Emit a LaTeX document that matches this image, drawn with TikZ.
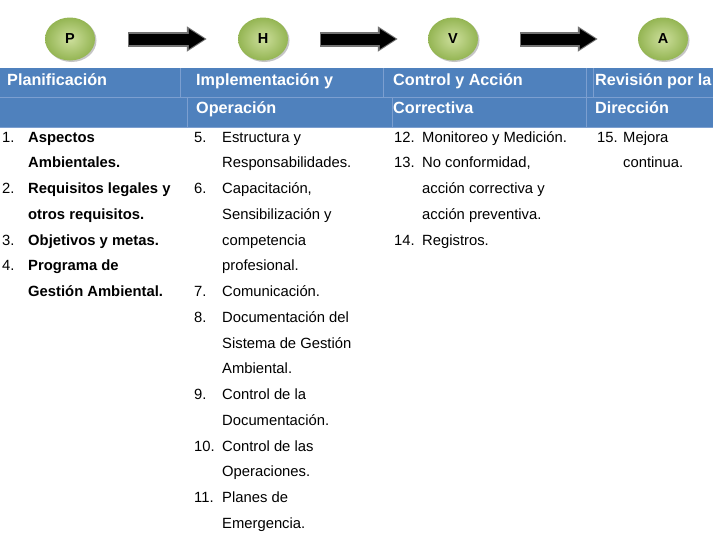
\documentclass[tikz,border=0pt]{standalone}
\usepackage{fontspec}
\setmainfont{Liberation Sans}
\usepackage{tikz}
\usetikzlibrary{shapes.geometric,shadows,arrows.meta}
\definecolor{hdrblue}{HTML}{4F81BD}
\definecolor{hdrline}{HTML}{7C9FD0}
\definecolor{phvaedge}{HTML}{94B553}
\definecolor{phvainner}{HTML}{CDDF9C}
\newcommand{\bodyfont}{\fontsize{14.8}{25.75}\selectfont}
\newcommand{\hdrfont}{\fontsize{16.2}{28}\selectfont\bfseries}
\tikzset{>=latex,
  phva/.style={ellipse, minimum width=50, minimum height=43, inner sep=0,
    shading=radial, inner color=phvainner, outer color=phvaedge,
    drop shadow={shadow xshift=1.5pt, shadow yshift=-1.5pt, fill=black!45},
    font=\fontsize{14.5}{16}\selectfont\bfseries},
  bigarrow/.style={line width=15, draw=black!55,
    -{Triangle[length=20pt,width=24pt]}},
  bigarrowin/.style={line width=11, draw=black,
    -{Triangle[length=16pt,width=19pt]}},
  % base = baseline of the last line
  hdr/.style={anchor=base west, inner sep=0, align=left, text=white, font=\hdrfont},
  num/.style={anchor=base west, inner sep=0, font=\bodyfont},
  itm/.style={anchor=base west, inner sep=0, align=left, font=\bodyfont},
  itmb/.style={itm, font=\bodyfont\bfseries}}

\begin{document}
\begin{tikzpicture}[x=1pt,y=-1pt]
  \useasboundingbox (0,0) rectangle (713,539);

  % P H V A
  \node[phva] (P) at (70,39) {P};
  \node[phva] (H) at (263,39) {H};
  \node[phva] (V) at (453,39) {V};
  \node[phva] (A) at (663,39) {A};

  \draw[bigarrow, shorten <=33, shorten >=31] (P.east) -- (P.east -| H.west);
  \draw[bigarrowin, shorten <=34, shorten >=33] (P.east) -- (P.east -| H.west);
  \draw[bigarrow, shorten <=32, shorten >=30] (H.east) -- (H.west -| V.west);
  \draw[bigarrowin, shorten <=33, shorten >=32] (H.east) -- (H.west -| V.west);
  \draw[bigarrow, shorten <=42, shorten >=40] (V.east) -- (V.east -| A.west);
  \draw[bigarrowin, shorten <=43, shorten >=42] (V.east) -- (V.east -| A.west);

  % cabecera
  \fill[hdrblue] (0,68) rectangle (713,127);
  \draw[hdrline, line width=0.8] (0,97) -- (713,97);
  \draw[hdrline, line width=1.2] (0,127.5) -- (713,127.5);
  \draw[hdrline, line width=0.8] (180,68) -- (180,97) (187,97) -- (187,127);
  \draw[hdrline, line width=0.8] (383,68) -- (383,97) (392,97) -- (392,127);
  \draw[hdrline, line width=0.8] (586,68) -- (586,127) (593,68) -- (593,97);

  \node[hdr] (h1) at (7,85) {Planificación};
  \node[hdr] (h2) at (196,113) {Implementación y\\Operación};
  \node[hdr] (h3) at (393,113) {Control y Acción\\Correctiva};
  \node[hdr] (h4) at (595,113) {Revisión por la\\Dirección};

  % Planificacion
  \node[num] (n1) at (2,142) {1.};
  \node[itmb] (t1) at (28,167.75) {Aspectos\\Ambientales.};
  \node[num] (n2) at (2,193.5) {2.};
  \node[itmb] (t2) at (28,219.25) {Requisitos legales y\\otros requisitos.};
  \node[num] (n3) at (2,245) {3.};
  \node[itmb] (t3) at (28,245) {Objetivos y metas.};
  \node[num] (n4) at (2,270.75) {4.};
  \node[itmb] (t4) at (28,296.5) {Programa de\\Gestión Ambiental.};

  % Implementacion y operacion
  \node[num] (n5) at (194,142) {5.};
  \node[itm] (t5) at (222,167.75) {Estructura y\\Responsabilidades.};
  \node[num] (n6) at (194,193.5) {6.};
  \node[itm] (t6) at (222,270.75) {Capacitación,\\Sensibilización y\\competencia\\profesional.};
  \node[num] (n7) at (194,296.5) {7.};
  \node[itm] (t7) at (222,296.5) {Comunicación.};
  \node[num] (n8) at (194,322.25) {8.};
  \node[itm] (t8) at (222,373.75) {Documentación del\\Sistema de Gestión\\Ambiental.};
  \node[num] (n9) at (194,399.5) {9.};
  \node[itm] (t9) at (222,425.25) {Control de la\\Documentación.};
  \node[num] (n10) at (194,451) {10.};
  \node[itm] (t10) at (222,476.75) {Control de las\\Operaciones.};
  \node[num] (n11) at (194,502.5) {11.};
  \node[itm] (t11) at (222,528.25) {Planes de\\Emergencia.};

  % Control y accion correctiva
  \node[num] (n12) at (394,142) {12.};
  \node[itm] (t12) at (422,142) {Monitoreo y Medición.};
  \node[num] (n13) at (394,167.75) {13.};
  \node[itm] (t13) at (422,219.25) {No conformidad,\\acción correctiva y\\acción preventiva.};
  \node[num] (n14) at (394,245) {14.};
  \node[itm] (t14) at (422,245) {Registros.};

  % Revision por la direccion
  \node[num] (n15) at (597,142) {15.};
  \node[itm] (t15) at (623,167.75) {Mejora\\continua.};
\end{tikzpicture}
\end{document}
